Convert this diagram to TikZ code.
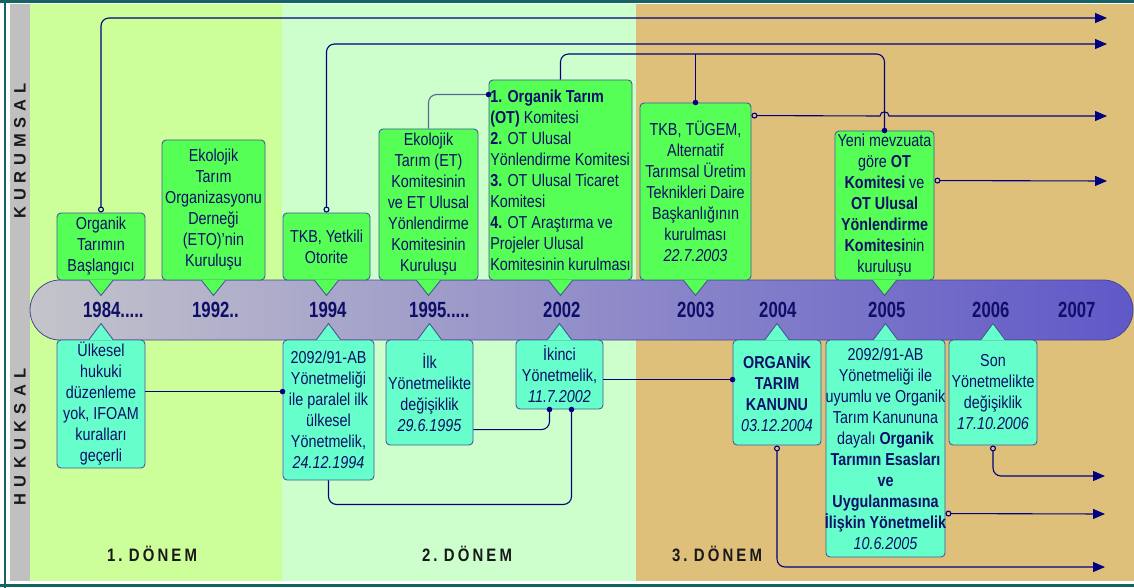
\documentclass[tikz,border=0pt]{standalone}
\usepackage{fontspec}
\setmainfont{Liberation Sans}[FakeStretch=0.83]
\newfontfamily\yearfont{Liberation Sans}[FakeStretch=0.76]
\newfontfamily\sidefont{Liberation Sans}
\usetikzlibrary{arrows.meta,calc}
\definecolor{perA}{RGB}{204,255,153}
\definecolor{perB}{RGB}{204,255,204}
\definecolor{perC}{RGB}{222,192,122}
\definecolor{topgreen}{RGB}{85,255,85}
\definecolor{botcyan}{RGB}{102,255,204}
\definecolor{boxline}{RGB}{70,90,150}
\definecolor{txtnavy}{RGB}{15,15,105}
\definecolor{connavy}{RGB}{0,0,128}
\definecolor{slateline}{RGB}{85,105,150}
\definecolor{frameteal}{RGB}{20,100,100}
\definecolor{bargray}{RGB}{196,196,202}
\definecolor{barblue}{RGB}{96,88,200}
\definecolor{barline}{RGB}{70,70,150}
\definecolor{sidegray}{RGB}{192,192,192}
\definecolor{labelblack}{RGB}{25,25,25}
\tikzset{
  topbox/.style={draw=boxline, line width=0.9pt, fill=topgreen, rounded corners=4pt,
    inner sep=0pt, align=center, text=txtnavy, font=\fontsize{17.3}{21}\selectfont},
  botbox/.style={topbox, fill=botcyan},
  conn/.style={draw=connavy, line width=1.1pt, rounded corners=8pt},
  opentip/.style={{Circle[open,length=6pt,width=6pt]}-{Triangle[length=12pt,width=10pt]}},
  ptrline/.style={draw=boxline, line width=0.9pt},
  yearlbl/.style={inner sep=0pt, anchor=base west, text=txtnavy, font=\yearfont\fontsize{22}{22}\selectfont\bfseries},
  sidelbl/.style={inner sep=0pt, rotate=90, text=labelblack, font=\sidefont\fontsize{16.5}{16.5}\selectfont\bfseries},
  perlbl/.style={inner sep=0pt, anchor=base, text=labelblack, font=\fontsize{18}{18}\selectfont\bfseries},
}
\newcommand\tptr[2]{%
  \fill[#2] ($(#1.south)+(-12,-0.8)$) -- ($(#1.south)+(0,15)$) -- ($(#1.south)+(12,-0.8)$) -- cycle;
  \draw[ptrline] ($(#1.south)+(-12,0)$) -- ($(#1.south)+(0,15)$) -- ($(#1.south)+(12,0)$);}
\newcommand\bptr[2]{%
  \fill[#2] ($(#1.north)+(-12,0.8)$) -- ($(#1.north)+(0,-16)$) -- ($(#1.north)+(12,0.8)$) -- cycle;
  \draw[ptrline] ($(#1.north)+(-12,0)$) -- ($(#1.north)+(0,-16)$) -- ($(#1.north)+(12,0)$);}
\begin{document}
\begin{tikzpicture}[x=1pt,y=-1pt]
\useasboundingbox (0,0) rectangle (1134,588);
\fill[white] (0,0) rectangle (1134,588);
% periods
\fill[perA] (30,4) rectangle (282,580.5);
\fill[perB] (282,4) rectangle (636,580.5);
\fill[perC] (636,4) rectangle (1134,580.5);
\fill[sidegray] (10,4) rectangle (30,580.5);
\draw[frameteal, line width=2.6pt] (5,0) -- (5,588);
\draw[frameteal, line width=2.6pt] (0,1.3) -- (1134,1.3);
\draw[frameteal, line width=2.6pt] (0,585.7) -- (1134,585.7);
% side labels
\node[sidelbl] (kur) at (20,151) {\makebox[135pt][s]{K\hfil U\hfil R\hfil U\hfil M\hfil S\hfil A\hfil L}};
\node[sidelbl] (huk) at (20,437) {\makebox[137pt][s]{H\hfil U\hfil K\hfil U\hfil K\hfil S\hfil A\hfil L}};
% period labels
\node[perlbl] (d1) at (152,561) {\makebox[90pt][s]{1\hfil.\hfil\hfil D\hfil Ö\hfil N\hfil E\hfil M}};
\node[perlbl] (d2) at (467,561) {\makebox[90pt][s]{2\hfil.\hfil\hfil D\hfil Ö\hfil N\hfil E\hfil M}};
\node[perlbl] (d3) at (717,561) {\makebox[90pt][s]{3\hfil.\hfil\hfil D\hfil Ö\hfil N\hfil E\hfil M}};
% bar
\shadedraw[left color=bargray, right color=barblue, draw=barline, line width=0.8pt, rounded corners=30pt] (30,280) rectangle (1133,340);
% top boxes
\node[topbox, minimum width=88pt, minimum height=67pt] (t1) at (101,246.5) {Organik\\Tarımın\\Başlangıcı};
\node[topbox, minimum width=103pt, minimum height=140pt] (t2) at (213.5,210) {Ekolojik\\Tarım\\Organizasyonu\\Derneği\\(ETO)’nin\\Kuruluşu};
\node[topbox, minimum width=87pt, minimum height=67pt] (t3) at (326.5,246.5) {TKB, Yetkili\\Otorite};
\node[topbox, minimum width=99pt, minimum height=151pt] (t4) at (428.5,204.5) {Ekolojik\\Tarım (ET)\\Komitesinin\\ve ET Ulusal\\Yönlendirme\\Komitesinin\\Kuruluşu};
\node[topbox, align=left, minimum width=143pt, minimum height=200pt] (t5) at (560.5,180) {\textbf{1. Organik Tarım}\\\textbf{(OT)} Komitesi\\\textbf{2.} OT Ulusal\\Yönlendirme Komitesi\\\textbf{3.} OT Ulusal Ticaret\\Komitesi\\\textbf{4.} OT Araştırma ve\\Projeler Ulusal\\Komitesinin kurulması};
\node[topbox, minimum width=111pt, minimum height=177pt] (t6) at (695.5,191.5) {TKB, TÜGEM,\\Alternatif\\Tarımsal Üretim\\Teknikleri Daire\\Başkanlığının\\kurulması\\\textit{22.7.2003}};
\node[topbox, minimum width=99pt, minimum height=149pt] (t7) at (884.5,205.5) {Yeni mevzuata\\göre \textbf{OT}\\\textbf{Komitesi} ve\\\textbf{OT Ulusal}\\\textbf{Yönlendirme}\\\textbf{Komitesi}nin\\kuruluşu};
% bottom boxes
\node[botbox, minimum width=88pt, minimum height=128pt] (b1) at (101,404) {Ülkesel\\hukuki\\düzenleme\\yok, IFOAM\\kuralları\\geçerli};
\node[botbox, minimum width=91pt, minimum height=140pt] (b2) at (328.5,410) {2092/91-AB\\Yönetmeliği\\ile paralel ilk\\ülkesel\\Yönetmelik,\\\textit{24.12.1994}};
\node[botbox, minimum width=87pt, minimum height=105pt] (b3) at (429.5,392.5) {İlk\\Yönetmelikte\\değişiklik\\\textit{29.6.1995}};
\node[botbox, minimum width=87pt, minimum height=69pt] (b4) at (559.5,374.5) {İkinci\\Yönetmelik,\\\textit{11.7.2002}};
\node[botbox, minimum width=88pt, minimum height=105pt] (b5) at (777,392.5) {\textbf{ORGANİK}\\\textbf{TARIM}\\\textbf{KANUNU}\\\textit{03.12.2004}};
\node[botbox, minimum width=119pt, minimum height=217pt] (b6) at (885.5,448.5) {2092/91-AB\\Yönetmeliği ile\\\makebox[117pt][c]{uyumlu ve Organik}\\Tarım Kanununa\\dayalı \textbf{Organik}\\\textbf{Tarımın Esasları}\\\textbf{ve}\\\textbf{Uygulanmasına}\\\makebox[117pt][c]{\textbf{İlişkin Yönetmelik}}\\\textit{10.6.2005}};
\node[botbox, minimum width=88pt, minimum height=105pt] (b7) at (993,392.5) {Son\\Yönetmelikte\\değişiklik\\\textit{17.10.2006}};
% pointers
\tptr{t1}{topgreen}\tptr{t2}{topgreen}\tptr{t3}{topgreen}\tptr{t4}{topgreen}
\tptr{t5}{topgreen}\tptr{t6}{topgreen}\tptr{t7}{topgreen}
\bptr{b1}{botcyan}\bptr{b2}{botcyan}\bptr{b3}{botcyan}\bptr{b4}{botcyan}
\bptr{b5}{botcyan}\bptr{b6}{botcyan}\bptr{b7}{botcyan}
% years
\node[yearlbl] (y1984) at (83,317) {1984.....};
\node[yearlbl] (y1992) at (192,317) {1992..};
\node[yearlbl] (y1994) at (309,317) {1994};
\node[yearlbl] (y1995) at (409,317) {1995.....};
\node[yearlbl] (y2002) at (543,317) {2002};
\node[yearlbl] (y2003) at (677,317) {2003};
\node[yearlbl] (y2004) at (759,317) {2004};
\node[yearlbl] (y2005) at (868,317) {2005};
\node[yearlbl] (y2006) at (972,317) {2006};
\node[yearlbl] (y2007) at (1058,317) {2007};
% arrow end coordinates
\coordinate (e1) at (1107,18);
\coordinate (e2) at (1107,44);
\coordinate (j3) at (884.5,54);
\coordinate (e5) at (1107,116);
\coordinate (e6) at (1107,181);
\coordinate (e7) at (1105,567);
\coordinate (e8) at (1105,514);
\coordinate (e9) at (1105,476);
% top connectors
\draw[conn, opentip] (t1.north) |- (e1);
\draw[conn, opentip] (t3.north) |- (e2);
\draw[conn] (t5.north) |- (j3) -- (t7.north);
\draw[conn] (t6.north |- j3) -- (t6.north);
\fill[connavy] (t7.north) circle (2.8pt);
\fill[connavy] (t6.north) circle (2.8pt);
\draw[conn, draw=slateline] (t4.north) |- ($(t5.north west)+(0,15)$);
\fill[connavy] ($(t5.north west)+(0,15)$) circle (2.8pt);
\draw[conn, sharp corners, opentip] ($(t6.north east)+(0,13)$) -- (880,116) .. controls (880,110.5) and (889,110.5) .. (889,116) -- (e5);
\draw[conn, opentip] ($(t7.north east)+(0,50)$) -- (e6);
% bottom connectors
\draw[conn] ($(b1.north east)+(0,52)$) -- ($(b2.north west)+(0,52)$);
\fill[connavy] ($(b2.north west)+(0,52)$) circle (2.8pt);
\draw[conn] (b2.south) |- ($(b4.south)+(12,95)$) -- ($(b4.south)+(12,0)$);
\fill[connavy] ($(b4.south)+(12,0)$) circle (2.8pt);
\draw[conn] ($(b3.north east)+(0,90)$) -| ($(b4.south)+(-10,0)$);
\fill[connavy] ($(b4.south)+(-10,0)$) circle (2.8pt);
\draw[conn] ($(b4.north east)+(0,40)$) -- ($(b5.north west)+(0,40)$);
\fill[connavy] ($(b5.north west)+(0,40)$) circle (2.8pt);
\draw[conn, opentip] (b5.south) |- (e7);
\draw[conn, opentip] ($(b6.north east)+(0,174)$) -- (e8);
\draw[conn, opentip] (b7.south) |- (e9);
\end{tikzpicture}
\end{document}
